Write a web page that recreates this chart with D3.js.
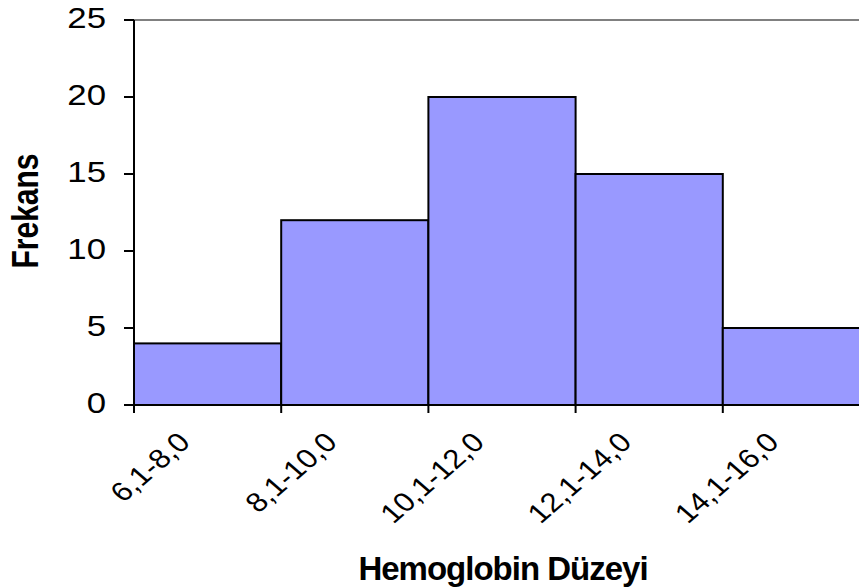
<!DOCTYPE html>
<html>
<head>
<meta charset="utf-8">
<script src="https://cdn.jsdelivr.net/npm/d3@7"></script>
<style>
  body { margin: 0; background: #fff; }
  text { font-family: "Liberation Sans", Arial, sans-serif; fill: #000; }
</style>
</head>
<body>
<div id="chart"></div>
<script>
// histogram data
const categories = ['6,1-8,0', '8,1-10,0', '10,1-12,0', '12,1-14,0', '14,1-16,0']
const freq = [4, 12, 20, 15, 5]
const yTicks = [0, 5, 10, 15, 20, 25]

const W = 859, H = 587
// tick text looks stretched sideways in the picture
const sx = 1.2

let svg = d3.select('#chart').append('svg')
  .attr('width', W)
  .attr('height', H)

svg.append('rect').attr('width', W).attr('height', H).attr('fill', '#fff')

let x = d3.scaleBand().domain(categories).range([134, 870]).padding(0)
let y = d3.scaleLinear().domain([0, 25]).range([405, 20])

// top border of plot area
svg.append('line')
  .attr('x1', 134).attr('x2', 870)
  .attr('y1', y(25)).attr('y2', y(25))
  .attr('stroke', '#808080').attr('stroke-width', 2)

// bars
svg.selectAll('rect.bar')
  .data(categories)
  .enter().append('rect')
  .attr('class', 'bar')
  .attr('x', d => x(d))
  .attr('y', (d, i) => y(freq[i]))
  .attr('width', x.bandwidth())
  .attr('height', (d, i) => y(0) - y(freq[i]))
  .attr('fill', '#9999FF')
  .attr('stroke', '#000')
  .attr('stroke-width', 2)

// y axis
let yAxis = svg.append('g')
yAxis.append('line')
  .attr('x1', 134).attr('x2', 134)
  .attr('y1', y(25)).attr('y2', y(0))
  .attr('stroke', '#000').attr('stroke-width', 2)
yAxis.selectAll('line.tick')
  .data(yTicks)
  .enter().append('line')
  .attr('class', 'tick')
  .attr('x1', 124).attr('x2', 134)
  .attr('y1', d => y(d)).attr('y2', d => y(d))
  .attr('stroke', '#000').attr('stroke-width', 2)
yAxis.selectAll('text')
  .data(yTicks)
  .enter().append('text')
  .attr('transform', d => `translate(106,${y(d) + 8}) scale(${sx},1)`)
  .attr('text-anchor', 'end')
  .style('font-size', '29px')
  .text(d => d)

// x axis
let xAxis = svg.append('g')
xAxis.append('line')
  .attr('x1', 134).attr('x2', 870)
  .attr('y1', y(0)).attr('y2', y(0))
  .attr('stroke', '#000').attr('stroke-width', 2)
xAxis.selectAll('line.tick')
  .data(categories)
  .enter().append('line')
  .attr('class', 'tick')
  .attr('x1', d => x(d)).attr('x2', d => x(d))
  .attr('y1', y(0)).attr('y2', y(0) + 8)
  .attr('stroke', '#000').attr('stroke-width', 2)
xAxis.selectAll('text')
  .data(categories)
  .enter().append('text')
  .attr('transform', d => `translate(${x(d) + x.bandwidth() / 2 - 16},444) scale(1.15,1) rotate(-45)`)
  .attr('text-anchor', 'end')
  .style('font-size', '27px')
  .text(d => d)

// axis titles
svg.append('text')
  .attr('transform', `translate(38,211) scale(${sx},1) rotate(-90)`)
  .attr('text-anchor', 'middle')
  .style('font-size', '30px')
  .style('font-weight', 'bold')
  .text('Frekans')

svg.append('text')
  .attr('x', 503)
  .attr('y', 580)
  .attr('text-anchor', 'middle')
  .style('font-size', '33px')
  .style('letter-spacing', '-1px')
  .style('font-weight', 'bold')
  .text('Hemoglobin Düzeyi')
</script>
</body>
</html>
